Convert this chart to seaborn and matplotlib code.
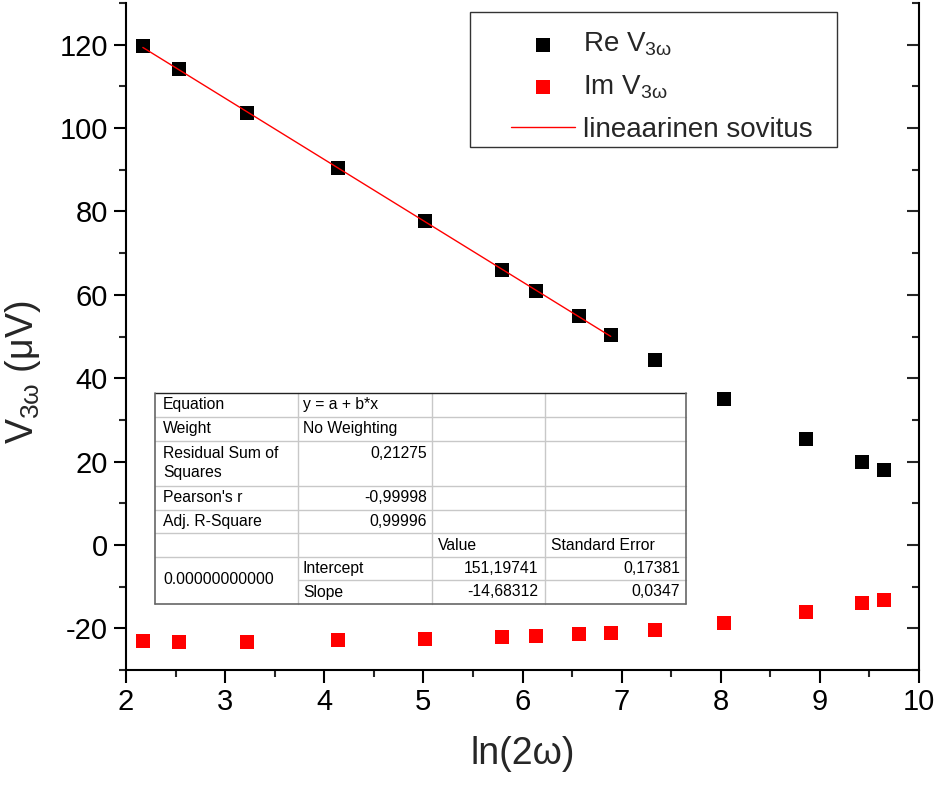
import numpy as np
import pandas as pd
import matplotlib
matplotlib.use("Agg")
import matplotlib.pyplot as plt
import seaborn as sns
from matplotlib.patches import Rectangle
from matplotlib.lines import Line2D
from matplotlib.ticker import MultipleLocator

# ---------------- data ----------------
ln2w = [2.17, 2.53, 3.22, 4.14, 5.02, 5.79, 6.14, 6.57, 6.89, 7.34, 8.03, 8.86, 9.43, 9.65]
re_v = [119.6, 114.1, 103.7, 90.3, 77.8, 66.0, 60.8, 54.8, 50.4, 44.3, 35.0, 25.4, 20.0, 18.0]
im_v = [-23.1, -23.3, -23.2, -22.9, -22.6, -22.1, -21.9, -21.4, -21.1, -20.4, -18.7, -16.1, -13.9, -13.2]

fit_intercept = 151.19741
fit_slope = -14.68312
fit_x_range = [2.17, 6.89]

x_ticks = [2, 3, 4, 5, 6, 7, 8, 9, 10]
y_ticks = [-20, 0, 20, 40, 60, 80, 100, 120]

legend_labels = ["Re V$_{3ω}$", "Im V$_{3ω}$", "lineaarinen sovitus"]
x_label = "ln(2ω)"
y_label = "V$_{3ω}$ (μV)"

table_equation = "y = a + b*x"
table_weight = "No Weighting"
table_rss = "0,21275"
table_pearson = "-0,99998"
table_adjr2 = "0,99996"
table_intercept = ["151,19741", "0,17381"]
table_slope = ["-14,68312", "0,0347"]
table_rowname = "0.00000000000"

# ---------------- style ----------------
sns.set_style("ticks")
plt.rcParams['font.family'] = ['Liberation Sans', 'DejaVu Sans']
plt.rcParams['mathtext.fontset'] = 'custom'
plt.rcParams['mathtext.rm'] = 'Liberation Sans'
plt.rcParams['mathtext.it'] = 'Liberation Sans:italic'
plt.rcParams['mathtext.bf'] = 'Liberation Sans:bold'
plt.rcParams['mathtext.default'] = 'regular'
plt.rcParams['axes.unicode_minus'] = False

W, H = 938, 786
fig = plt.figure(figsize=(W / 100, H / 100), dpi=100)
fig.patch.set_facecolor('white')
ax = fig.add_axes([126 / W, 1 - 670 / H, (919 - 126) / W, (670 - 3) / H])
ax.set_facecolor('white')

fit_x = np.array(fit_x_range)
fit_y = fit_intercept + fit_slope * fit_x

sns.lineplot(x=fit_x, y=fit_y, color='#ff0000', linewidth=1.0, ax=ax, zorder=3,
             label=legend_labels[2])
sns.scatterplot(x=ln2w, y=re_v, color='black', marker='s', s=105, linewidth=0,
                ax=ax, zorder=2, label=legend_labels[0])
sns.scatterplot(x=ln2w, y=im_v, color='#ff0000', marker='s', s=105, linewidth=0,
                ax=ax, zorder=2, label=legend_labels[1])

ax.set_xlim(2, 10)
ax.set_ylim(-30, 130)
ax.set_xticks(x_ticks)
ax.set_yticks(y_ticks)
ax.xaxis.set_minor_locator(MultipleLocator(0.5))
ax.yaxis.set_minor_locator(MultipleLocator(10))
ax.tick_params(which='major', direction='out', length=9, width=1.5, labelsize=21,
               colors='black', pad=4)
ax.tick_params(which='minor', direction='out', length=5, width=1.5)
for s in ['top', 'right']:
    ax.spines[s].set_visible(False)
for s in ['left', 'bottom']:
    ax.spines[s].set_linewidth(1.5)
    ax.spines[s].set_color('black')

sec = ax.secondary_yaxis('right')
sec.set_yticks(y_ticks)
sec.yaxis.set_minor_locator(MultipleLocator(10))
sec.tick_params(which='major', direction='in', length=9, width=1.5, labelright=False)
sec.tick_params(which='minor', direction='in', length=5, width=1.5, labelright=False)
sec.spines['right'].set_linewidth(1.5)
sec.spines['right'].set_color('black')

ax.set_xlabel(x_label, fontsize=27, labelpad=14)
ax.set_ylabel(y_label, fontsize=27)
ax.yaxis.set_label_coords(-0.105, 0.447)

# legend (reordered) with manual frame
handles, labels = ax.get_legend_handles_labels()
order = [labels.index(l) for l in legend_labels]
leg = ax.legend([handles[i] for i in order], [labels[i] for i in order],
                loc='upper left', bbox_to_anchor=(511 / W, 1 - 31 / H),
                bbox_transform=fig.transFigure, frameon=False, fontsize=20,
                handlelength=2.3, handletextpad=0.3, labelspacing=0.55,
                borderpad=0, borderaxespad=0, markerscale=1.0)
fig.add_artist(Rectangle((470 / W, 1 - 147 / H), (837 - 470) / W, (147 - 12) / H,
                         transform=fig.transFigure, facecolor='none',
                         edgecolor='#333333', linewidth=1.0, zorder=5))

# ---------------- table ----------------
def fx(x):
    return x / W

def fy(y):
    return 1 - y / H

cols = [155, 298, 432, 545, 686]
rows = [393, 417, 441, 486, 510, 533, 557, 580, 604]
tl, tr, tt, tb = cols[0], cols[-1], rows[0], rows[-1]
fig.add_artist(Rectangle((fx(tl), fy(tb)), (tr - tl) / W, (tb - tt) / H,
                         transform=fig.transFigure, facecolor='white',
                         edgecolor='none', zorder=4))

def hline(y, x0, x1, color='#c8c8c8', lw=1.0):
    fig.add_artist(Line2D([fx(x0), fx(x1)], [fy(y), fy(y)], transform=fig.transFigure,
                          color=color, linewidth=lw, zorder=5))

def vline(x, y0, y1, color='#c8c8c8', lw=1.0):
    fig.add_artist(Line2D([fx(x), fx(x)], [fy(y0), fy(y1)], transform=fig.transFigure,
                          color=color, linewidth=lw, zorder=5))

for r in rows[1:-1]:
    if r == rows[-2]:
        hline(r, cols[1], tr)
    else:
        hline(r, tl, tr)
for c in cols[1:-1]:
    vline(c, tt, tb)
hline(tt, tl, tr, color='#222222', lw=1.0)
hline(tb, tl, tr, color='#666666', lw=1.2)
vline(tl, tt, tb, color='#666666', lw=1.2)
vline(tr, tt, tb, color='#666666', lw=1.2)

fs = 11.3
def txt(x, y, s, ha='left', va='center'):
    fig.text(fx(x), fy(y), s, ha=ha, va=va, fontsize=fs, color='black', zorder=6)

def mid(i):
    return (rows[i] + rows[i + 1]) / 2

txt(163, mid(0), "Equation")
txt(303, mid(0), table_equation)
txt(163, mid(1), "Weight")
txt(303, mid(1), table_weight)
txt(163, rows[2] + 12, "Residual Sum of")
txt(163, rows[2] + 31, "Squares")
txt(427, rows[2] + 12, table_rss, ha='right')
txt(163, mid(3), "Pearson's r")
txt(427, mid(3), table_pearson, ha='right')
txt(163, mid(4), "Adj. R-Square")
txt(427, mid(4), table_adjr2, ha='right')
txt(438, mid(5), "Value")
txt(551, mid(5), "Standard Error")
txt(163, rows[7], table_rowname)
txt(303, mid(6), "Intercept")
txt(538, mid(6), table_intercept[0], ha='right')
txt(680, mid(6), table_intercept[1], ha='right')
txt(303, mid(7), "Slope")
txt(538, mid(7), table_slope[0], ha='right')
txt(680, mid(7), table_slope[1], ha='right')

fig.savefig("out.png", dpi=100, facecolor='white')
